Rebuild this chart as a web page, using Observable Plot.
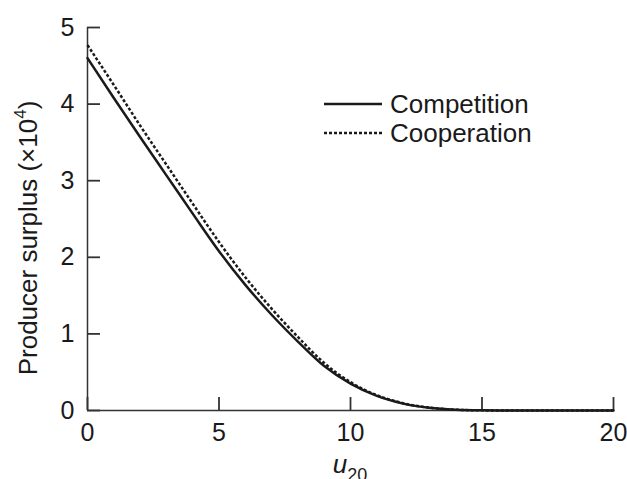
<!DOCTYPE html>
<html><head><meta charset="utf-8">
<script src="https://cdn.jsdelivr.net/npm/d3@7"></script>
<script src="https://cdn.jsdelivr.net/npm/@observablehq/plot@0.6"></script>
<style>body{margin:0;background:#fff}</style>
</head><body><div id="chart"></div>
<script>
const u = [0,1,2,3,4,5,6,7,8,9,10,11,12,13,14,15,16,17,18,19,20];
const competition = [4.6,4.08,3.57,3.07,2.57,2.08,1.64,1.25,0.9,0.58,0.35,0.19,0.09,0.035,0.01,0.002,0,0,0,0,0];
const cooperation = [4.77,4.25,3.72,3.21,2.70,2.20,1.74,1.33,0.96,0.62,0.37,0.2,0.095,0.037,0.01,0.002,0,0,0,0,0];
const xTicks = [0,5,10,15,20];
const yTicks = [0,1,2,3,4,5];
const seriesNames = ["Competition","Cooperation"];
const yLabel = "Producer surplus (×10";
const yLabelExp = "4";
const xLabel = "u";
const xLabelSub = "20";

const compRows = u.map((x,i)=>({u:x, v:competition[i]}));
const coopRows = u.map((x,i)=>({u:x, v:cooperation[i]}));

const font = "'Liberation Sans', Arial, sans-serif";
const ink = "#1a1a1a";
const axisInk = "#333";
const W = 627, H = 479, mL = 87, mR = 14, mT = 27, mB = 69;
const tickLen = 13;

const svg = Plot.plot({
  width: W, height: H,
  marginLeft: mL, marginRight: mR, marginTop: mT, marginBottom: mB,
  style: {fontFamily: font, background: "#fff", color: ink},
  x: {domain: [0,20]},
  y: {domain: [0,5]},
  marks: [
    Plot.axisX(xTicks, {tickSize: 0, tickPadding: 13, fontSize: 25, label: null, fill: ink, tickFormat: "d"}),
    Plot.axisY(yTicks, {tickSize: 0, tickPadding: 13, fontSize: 25, label: null, fill: ink, tickFormat: "d"}),
    Plot.tickX(xTicks, {x: d => d, stroke: axisInk, strokeWidth: 1.8, insetTop: (H - mT - mB) - tickLen}),
    Plot.tickY(yTicks, {y: d => d, stroke: axisInk, strokeWidth: 1.8, insetRight: (W - mL - mR) - tickLen}),
    Plot.ruleY([0], {stroke: axisInk, strokeWidth: 1.5}),
    Plot.ruleX([0], {stroke: axisInk, strokeWidth: 1.5}),
    Plot.line(coopRows, {x: "u", y: "v", stroke: ink, strokeWidth: 2.5, strokeDasharray: "3,2", strokeLinecap: "butt", curve: "monotone-x"}),
    Plot.line(compRows, {x: "u", y: "v", stroke: ink, strokeWidth: 2.5, curve: "monotone-x"})
  ]
});
document.getElementById("chart").append(svg);

const s = d3.select(svg);
// y label
const yl = s.append("text")
  .attr("transform", "translate(37,238) rotate(-90)")
  .attr("text-anchor", "middle")
  .attr("font-family", font).attr("font-size", 26).attr("fill", ink);
yl.append("tspan").text(yLabel);
yl.append("tspan").attr("dy", -11).attr("font-size", 17).text(yLabelExp);
yl.append("tspan").attr("dy", 11).text(")");
// x label
const xl = s.append("text")
  .attr("x", 350).attr("y", 473)
  .attr("text-anchor", "middle")
  .attr("font-family", font).attr("font-size", 26).attr("fill", ink);
xl.append("tspan").attr("font-style", "italic").text(xLabel);
xl.append("tspan").attr("font-size", 18).attr("dy", 8).text(xLabelSub);
// legend
const legY = [104, 133];
const dashes = [null, "3,2"];
seriesNames.forEach((name, i) => {
  s.append("line").attr("x1", 324).attr("x2", 382).attr("y1", legY[i]).attr("y2", legY[i])
    .attr("stroke", ink).attr("stroke-width", 2.5).attr("stroke-linecap", "butt").attr("stroke-dasharray", dashes[i]);
  s.append("text").attr("x", 390).attr("y", legY[i] + 9)
    .attr("text-anchor", "start")
    .attr("font-family", font).attr("font-size", 26).attr("fill", ink).text(name);
});
</script>
</body></html>
